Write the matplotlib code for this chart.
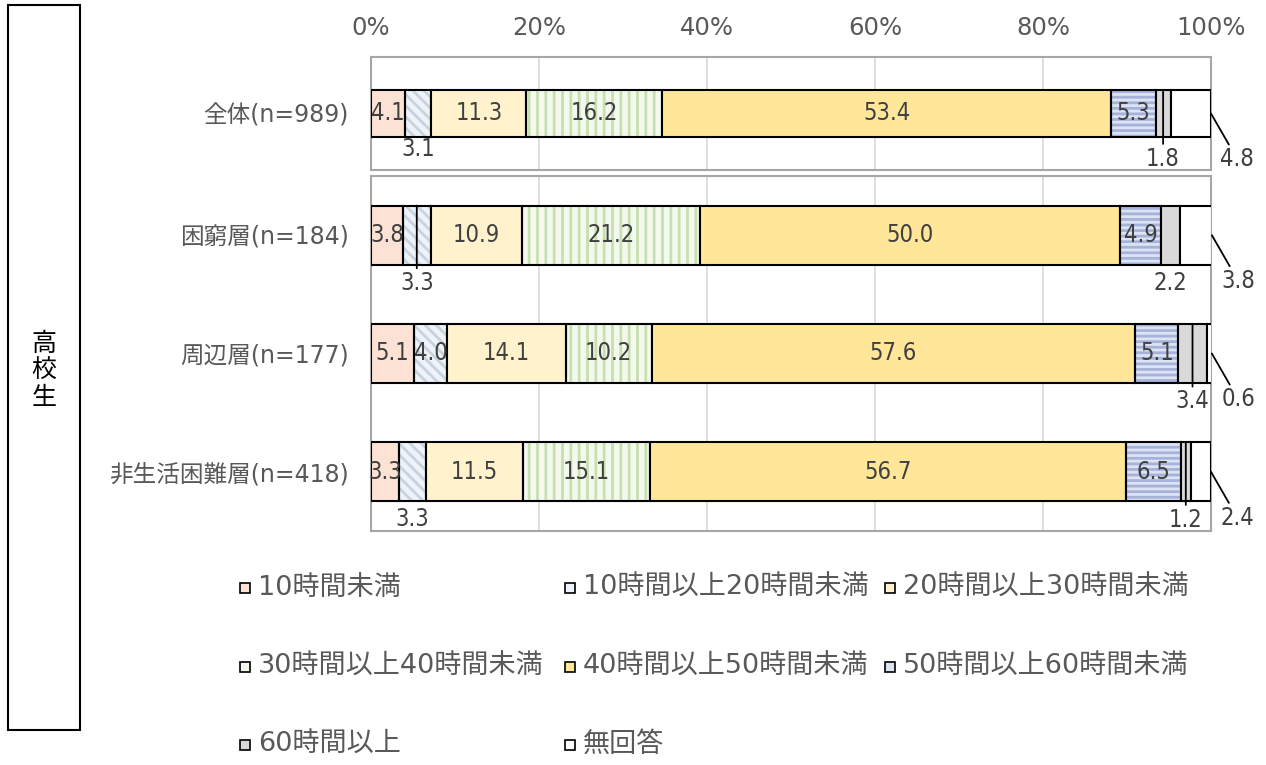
"""高校生 就労時間の分布 帯グラフ"""

import matplotlib
matplotlib.use("Agg")
import matplotlib.pyplot as plt
from matplotlib.patches import Rectangle
import numpy as np

plt.rcParams["font.family"] = ["DejaVu Sans", "Noto Sans CJK JP"]
plt.rcParams["hatch.linewidth"] = 2.0

# ── データ ──
categories = ["10時間未満", "10時間以上20時間未満", "20時間以上30時間未満",
              "30時間以上40時間未満", "40時間以上50時間未満", "50時間以上60時間未満",
              "60時間以上", "無回答"]
group_total = ["全体(n=989)"]
groups_sub = ["困窮層(n=184)", "周辺層(n=177)", "非生活困難層(n=418)"]

vals_total = [[4.1, 3.1, 11.3, 16.2, 53.4, 5.3, 1.8, 4.8]]
vals_sub = [
    [3.8, 3.3, 10.9, 21.2, 50.0, 4.9, 2.2, 3.8],
    [5.1, 4.0, 14.1, 10.2, 57.6, 5.1, 3.4, 0.6],
    [3.3, 3.3, 11.5, 15.1, 56.7, 6.5, 1.2, 2.4],
]
# ラベル位置: in=棒の中, below=棒の下, line=棒の下+引出線, right=右側
place_total = [["in", "below", "in", "in", "in", "in", "line", "right"]]
place_sub = [
    ["in", "line", "in", "in", "in", "in", "below", "right"],
    ["in", "in", "in", "in", "in", "in", "line", "right"],
    ["in", "below", "in", "in", "in", "in", "line", "right"],
]

# 色・ハッチ
face = ["#FBE2D5", "#EEF3F9", "#FFF2CC", "#F4F9EE", "#FFE699", "#DCE3F2", "#D9D9D9", "#FFFFFF"]
hatch = [None, "\\\\\\", None, "||", None, "---", None, None]
hcolor = [None, "#C9D3DE", None, "#C8E0B0", None, "#A7B2DA", None, None]

lbl_color = "#404040"
tick_color = "#595959"
num_kw = dict(fontsize=17, color=lbl_color, family="DejaVu Sans", fontstretch="condensed")

fig = plt.figure(figsize=(12.66, 7.65), dpi=100)
W, H = 1266, 765
PT = 0.72  # px -> pt


def px_axes(x0, y0, x1, y1):
    return fig.add_axes([x0 / W, 1 - y1 / H, (x1 - x0) / W, (y1 - y0) / H])


ax1 = px_axes(371, 57, 1211, 170)
ax2 = px_axes(371, 176, 1211, 531)


def draw(ax, names, data, places, height, unit_px, off_below, off_line):
    n = len(names)
    y = np.arange(n)
    bar_px = height * unit_px
    for r in range(n):
        left = 0.0
        for k, v in enumerate(data[r]):
            if hatch[k]:
                ax.barh(y[r], v, left=left, height=height, color=face[k],
                        edgecolor=hcolor[k], hatch=hatch[k], linewidth=0, zorder=2)
                ax.barh(y[r], v, left=left, height=height, fill=False,
                        edgecolor="black", linewidth=1.5, zorder=3)
            else:
                ax.barh(y[r], v, left=left, height=height, color=face[k],
                        edgecolor="black", linewidth=1.5, zorder=3)
            c = left + v / 2
            p = places[r][k]
            txt = f"{v:.1f}"
            if p == "in":
                ax.text(c, y[r], txt, ha="center", va="center", zorder=4, **num_kw)
            elif p == "below":
                ax.annotate(txt, xy=(c, y[r] + height / 2), xytext=(0, -off_below * PT),
                            textcoords="offset points", ha="center", va="center",
                            annotation_clip=False, **num_kw)
            elif p == "line":
                ax.annotate(txt, xy=(c, y[r] - height / 2),
                            xytext=(0, -(bar_px + off_line) * PT),
                            textcoords="offset points", ha="center", va="center",
                            annotation_clip=False,
                            arrowprops=dict(arrowstyle="-", color="black", lw=1.3,
                                            shrinkA=0, shrinkB=0),
                            zorder=5, **num_kw)
            elif p == "right":
                ax.annotate(txt, xy=(left + v, y[r]), xytext=(19, -33),
                            textcoords="offset points", ha="center", va="center",
                            annotation_clip=False,
                            arrowprops=dict(arrowstyle="-", color="black", lw=1.3,
                                            shrinkA=0, shrinkB=0), **num_kw)
            left += v

    ax.set_xlim(0, 100)
    ax.set_ylim(n - 0.5, -0.5)
    ax.set_yticks(y)
    ax.set_yticklabels(names, fontsize=17, color=tick_color)
    ax.tick_params(axis="y", length=0, pad=16)
    ax.set_xticks(np.arange(0, 101, 20))
    ax.grid(axis="x", color="#D9D9D9", linewidth=1.2, zorder=0)
    ax.set_axisbelow(True)
    for s in ax.spines.values():
        s.set_color("#A6A6A6")
        s.set_linewidth(1.5)


draw(ax1, group_total, vals_total, place_total, 0.41, 113, 12, 22)
draw(ax2, groups_sub, vals_sub, place_sub, 0.5, 119, 18, 18)

ax1.xaxis.tick_top()
ax1.set_xticklabels([f"{t}%" for t in range(0, 101, 20)], fontsize=17.5, color=tick_color)
ax1.tick_params(axis="x", length=0, pad=12)
ax2.tick_params(axis="x", length=0, labelbottom=False)

# 左側の枠「高校生」
fig.patches.append(Rectangle((8 / W, 1 - 730 / H), 72 / W, 725 / H, transform=fig.transFigure,
                             fill=False, edgecolor="black", linewidth=1.5))
fig.text(44 / W, 1 - 371 / H, "高\n校\n生", ha="center", va="center", fontsize=18,
         color="black", linespacing=1.05, family="Noto Sans CJK JP")

# 凡例 (3列)
col_x = [245, 570, 890]
row_y = [588, 667, 745]
for k, name in enumerate(categories):
    cx = col_x[k % 3]
    cy = row_y[k // 3]
    sq = 10
    fig.patches.append(Rectangle(((cx - sq / 2) / W, 1 - (cy + sq / 2) / H), sq / W, sq / H,
                                 transform=fig.transFigure, facecolor=face[k],
                                 edgecolor="black", linewidth=1.2))
    fig.text((cx + 13) / W, 1 - cy / H, name, ha="left", va="center", fontsize=19.5,
             color=tick_color)

fig.savefig("out.png", dpi=100, facecolor="white")
